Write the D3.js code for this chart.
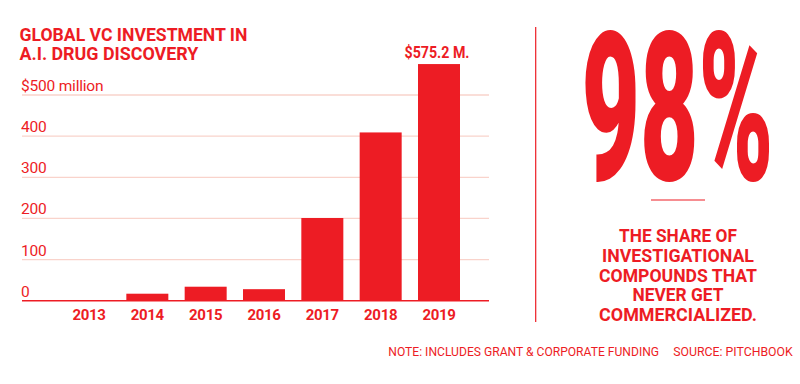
<!DOCTYPE html>
<html>
<head>
<meta charset="utf-8">
<script src="https://cdn.jsdelivr.net/npm/d3@7"></script>
<style>
  body { margin: 0; background: #fff; }
  svg text { font-family: Roboto, "Liberation Sans", sans-serif; fill: #ed1c24; }
</style>
</head>
<body>
<svg id="chart" width="800" height="384"></svg>
<script>
const years = ['2013', '2014', '2015', '2016', '2017', '2018', '2019']
const investment = [1, 17, 34, 28, 201, 409, 575.2]
const yTicks = [0, 100, 200, 300, 400, 500]
const titleLines = ['GLOBAL VC INVESTMENT IN', 'A.I. DRUG DISCOVERY']
const blurbLines = ['THE SHARE OF', 'INVESTIGATIONAL', 'COMPOUNDS THAT', 'NEVER GET', 'COMMERCIALIZED.']
const RED = '#ed1c24'

const svg = d3.select('#chart')

// squeeze a text horizontally to a target width (keeps bbox honest)
const fitText = (sel, px, py, width) => {
    sel.each(function (d, i) {
        const node = d3.select(this)
        const w = this.getComputedTextLength()
        const tw = typeof width === 'function' ? width(d, i) : width
        const tx = typeof px === 'function' ? px(d, i) : px
        const ty = typeof py === 'function' ? py(d, i) : py
        node.attr('x', 0).attr('y', 0)
            .attr('transform', `translate(${tx},${ty}) scale(${tw / w},1)`)
    })
}

const x = d3.scaleBand()
    .domain(years)
    .range([68, 460])
    .paddingInner(0.28)
    .paddingOuter(0)

const y = d3.scaleLinear()
    .domain([0, 500])
    .range([300.7, 95])

// gridlines + labels
const grid = svg.append('g')
grid.selectAll('line')
    .data(yTicks)
    .join('line')
    .attr('x1', 22).attr('x2', 489)
    .attr('y1', d => y(d)).attr('y2', d => y(d))
    .attr('stroke', d => d === 0 ? RED : '#f9d3cb')
    .attr('stroke-width', d => d === 0 ? 1.5 : 1.3)

grid.selectAll('text')
    .data(yTicks)
    .join('text')
    .attr('x', 21)
    .attr('y', d => y(d) - 4)
    .attr('font-size', 15.5)
    .attr('letter-spacing', -0.2)
    .text(d => d === 500 ? '$500 million' : d)

// bars
svg.append('g')
    .selectAll('rect')
    .data(investment)
    .join('rect')
    .attr('x', (d, i) => x(years[i]))
    .attr('width', x.bandwidth())
    .attr('y', d => y(d))
    .attr('height', d => y(0) - y(d))
    .attr('fill', RED)

// x labels
svg.append('g')
    .selectAll('text')
    .data(years)
    .join('text')
    .attr('x', d => x(d) + x.bandwidth() / 2)
    .attr('y', 320)
    .attr('text-anchor', 'middle')
    .attr('font-size', 15)
    .attr('font-weight', 'bold')
    .attr('letter-spacing', -0.3)
    .text(d => d)

// top value label
const last = investment.length - 1
svg.append('text')
    .attr('text-anchor', 'middle')
    .attr('font-size', 16)
    .attr('font-weight', 'bold')
    .text(`$${investment[last]} M.`)
    .call(fitText, x(years[last]) + x.bandwidth() / 2 - 2, 57.5, 65)

// title
const titleWidths = [228, 179]
svg.append('g')
    .selectAll('text')
    .data(titleLines)
    .join('text')
    .attr('font-size', 17.5)
    .attr('font-weight', 'bold')
    .text(d => d)
    .call(fitText, 19.5, (d, i) => 40.7 + i * 19.5, (d, i) => titleWidths[i])

// divider
svg.append('line')
    .attr('x1', 535.7).attr('x2', 535.7)
    .attr('y1', 27).attr('y2', 322)
    .attr('stroke', RED).attr('stroke-width', 1.2)

// big number
svg.append('text')
    .attr('font-size', 208)
    .attr('font-weight', 900)
    .text('98%')
    .call(fitText, 581.5, 180, 192)

svg.append('line')
    .attr('x1', 651).attr('x2', 705)
    .attr('y1', 200).attr('y2', 200)
    .attr('stroke', RED).attr('stroke-width', 1.2)

const blurbWidths = [118, 152, 158, 91, 158]
svg.append('g')
    .selectAll('text')
    .data(blurbLines)
    .join('text')
    .attr('text-anchor', 'middle')
    .attr('font-size', 18.5)
    .attr('font-weight', 'bold')
    .text(d => d)
    .call(fitText, 678, (d, i) => 242.3 + i * 19.7, (d, i) => blurbWidths[i])

// footer
svg.append('text')
    .attr('font-size', 13.5)
    .text('NOTE: INCLUDES GRANT & CORPORATE FUNDING')
    .call(fitText, 388.3, 355.7, 271)

svg.append('text')
    .attr('font-size', 13.5)
    .text('SOURCE: PITCHBOOK')
    .call(fitText, 673.3, 355.7, 119.5)
</script>
</body>
</html>
